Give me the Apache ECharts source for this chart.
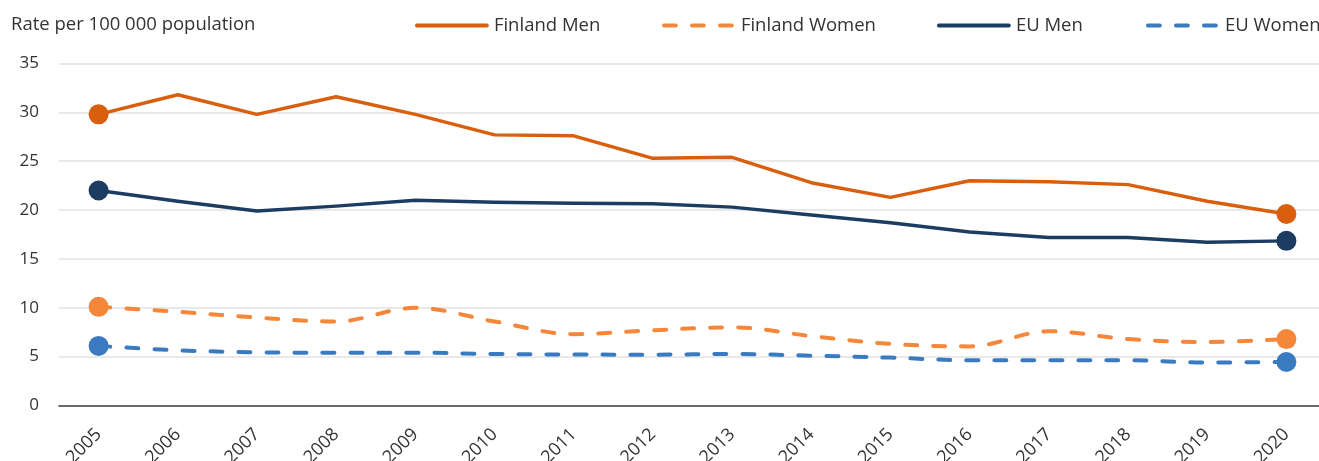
<!DOCTYPE html>
<html>
<head>
<meta charset="utf-8">
<script src="https://cdn.jsdelivr.net/npm/echarts@6/dist/echarts.min.js"></script>
<style>
  html, body { margin: 0; padding: 0; background: #fff; }
  #chart { width: 1319px; height: 461px; }
</style>
</head>
<body>
<div id="chart"></div>
<script>
// Rates per 100 000 population, 2005–2020
const years = ['2005','2006','2007','2008','2009','2010','2011','2012','2013','2014','2015','2016','2017','2018','2019','2020'];
const finlandMen   = [29.8, 31.8, 29.8, 31.6, 29.8, 27.7, 27.6, 25.3, 25.4, 22.8, 21.3, 23.0, 22.9, 22.6, 20.9, 19.6];
const finlandWomen = [10.1, 9.6, 9.0, 8.6, 10.0, 8.6, 7.3, 7.7, 8.0, 7.1, 6.3, 6.05, 7.6, 6.8, 6.5, 6.8];
const euMen        = [22.0, 20.9, 19.9, 20.4, 21.0, 20.8, 20.7, 20.65, 20.3, 19.5, 18.7, 17.75, 17.2, 17.2, 16.7, 16.85];
const euWomen      = [6.1, 5.65, 5.45, 5.4, 5.4, 5.27, 5.22, 5.2, 5.27, 5.1, 4.9, 4.63, 4.63, 4.63, 4.4, 4.45];
const yAxisTitle = 'Rate per 100 000 population';

const FONT = '"Open Sans", "Noto Sans", sans-serif';
const TEXT = '#333333';

// first and last points carry a large dot
function withEndDots(values) {
  return values.map((v, i) =>
    (i === 0 || i === values.length - 1) ? { value: v, symbolSize: 20 } : v);
}

function lineSeries(name, values, color, dashed) {
  return {
    name,
    type: 'line',
    data: withEndDots(values),
    symbol: 'circle',
    symbolSize: 0,
    showSymbol: true,
    showAllSymbol: true,
    smooth: dashed ? 0.35 : false,
    itemStyle: { color },
    lineStyle: {
      color,
      width: dashed ? 4 : 3.4,
      type: dashed ? [12, 16] : 'solid',
      cap: 'round',
      join: 'round'
    },
    emphasis: { disabled: true },
    z: dashed ? 3 : 4
  };
}

function legendAt(name, left) {
  return {
    data: [name],
    left,
    top: 16,
    padding: 0,
    itemWidth: 70,
    itemHeight: 14,
    selectedMode: false,
    itemStyle: { opacity: 0 },
    lineStyle: { width: 3.8 },
    textStyle: { fontFamily: FONT, fontSize: 18.5, color: TEXT, padding: [0, 0, 0, 2] }
  };
}

const chart = echarts.init(document.getElementById('chart'), null, { renderer: 'canvas' });
chart.setOption({
  animation: false,
  backgroundColor: '#ffffff',
  title: {
    text: yAxisTitle,
    left: 6,
    top: 10,
    textStyle: { fontFamily: FONT, fontSize: 18.5, fontWeight: 'normal', color: TEXT }
  },
  legend: [
    legendAt('Finland Men', 415),
    legendAt('Finland Women', 662),
    legendAt('EU Men', 937),
    legendAt('EU Women', 1146)
  ],
  grid: {
    left: 59,
    right: -7,
    top: 63.5,
    bottom: 55.5,
    containLabel: false,
    outerBoundsMode: 'none'
  },
  xAxis: {
    type: 'category',
    data: years,
    boundaryGap: true,
    axisLine: { lineStyle: { color: '#404040', width: 1.6 } },
    axisTick: { show: false },
    axisLabel: { rotate: 45, margin: 26, fontFamily: FONT, fontSize: 18, color: TEXT },
    splitLine: { show: false }
  },
  yAxis: {
    type: 'value',
    min: 0,
    max: 35,
    interval: 5,
    axisLine: { show: false },
    axisTick: { show: false },
    axisLabel: { margin: 20, fontFamily: FONT, fontSize: 17, color: TEXT },
    splitLine: { lineStyle: { color: '#e2e2e2', width: 1.5 } }
  },
  series: [
    lineSeries('Finland Men', finlandMen, '#d95f0e', false),
    lineSeries('Finland Women', finlandWomen, '#f5873a', true),
    lineSeries('EU Men', euMen, '#1d3c61', false),
    lineSeries('EU Women', euWomen, '#3a7ac0', true)
  ]
});
</script>
</body>
</html>
